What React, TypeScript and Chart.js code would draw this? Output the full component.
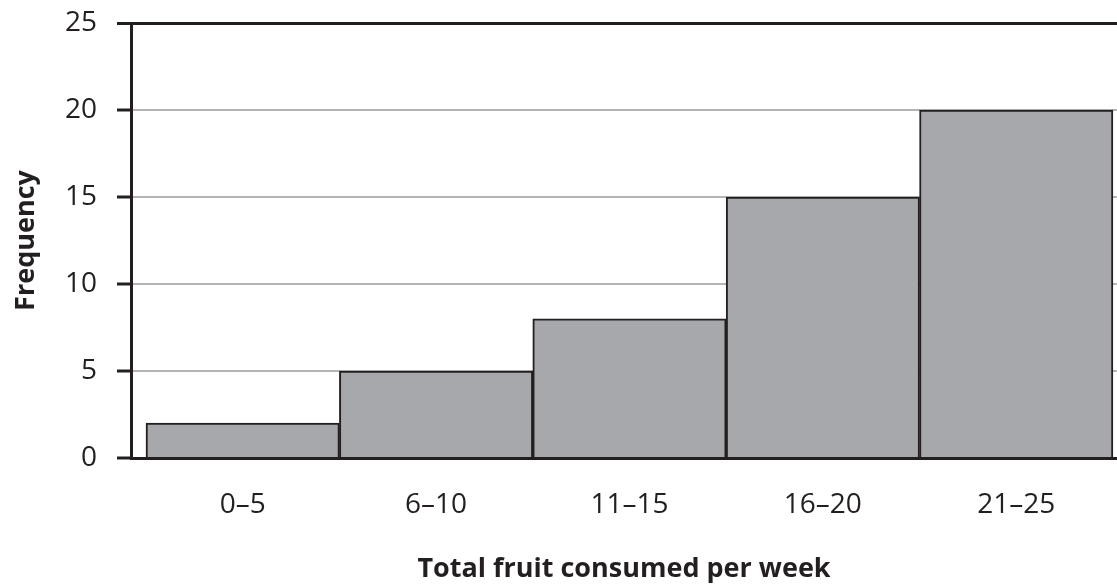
import { useEffect, useRef } from 'react';
import { Chart, registerables } from 'chart.js';

Chart.register(...registerables);

const categories = ['0–5', '6–10', '11–15', '16–20', '21–25'];
const frequencies = [2, 5, 8, 15, 20];
const yMax = 25;
const yStep = 5;
const xTitle = 'Total fruit consumed per week';
const yTitle = 'Frequency';

const INK = '#231f20';
const GRID = '#b4b4b4';
const FILL = '#a7a8ab';
const FONT = 'Open Sans';

export default function App() {
  const ref = useRef<HTMLCanvasElement>(null);

  useEffect(() => {
    const xMin = -0.5776;
    const xMax = 4.521;
    const chart = new Chart(ref.current!, {
      type: 'bar',
      data: {
        datasets: [
          {
            data: frequencies.map((v, i) => ({ x: i, y: v })),
            backgroundColor: FILL,
            borderColor: INK,
            borderWidth: 2,
            barThickness: 'flex',
            categoryPercentage: 1,
            barPercentage: 1,
          } as any,
        ],
      },
      options: {
        responsive: false,
        animation: false,
        layout: { padding: { top: 23, left: 0, right: 0, bottom: 0 } },
        plugins: { legend: { display: false }, tooltip: { enabled: false } },
        scales: {
          x: {
            type: 'linear',
            offset: false,
            min: xMin,
            max: xMax,
            afterBuildTicks: (s: any) => {
              s.ticks = [xMin, ...categories.map((_, i) => i)].map((v) => ({ value: v }));
            },
            afterFit: (s: any) => {
              s.height = 129;
              s.paddingLeft = 0;
              s.paddingRight = 0;
            },
            ticks: {
              callback: (v: any) => (Number.isInteger(v) ? categories[v] : ''),
              font: { family: FONT, size: 28 },
              color: INK,
              padding: 16,
              maxRotation: 0,
              autoSkip: false,
            },
            grid: {
              drawOnChartArea: false,
              tickLength: 14,
              tickWidth: 3,
              tickColor: (c: any) => (c.index === 0 ? INK : 'rgba(0,0,0,0)'),
            },
            border: { color: INK, width: 3 },
            title: {
              display: true,
              text: xTitle,
              font: { family: FONT, size: 27, weight: 'bold' },
              color: INK,
              padding: { top: 0, bottom: 1 },
            },
          },
          y: {
            min: 0,
            max: yMax,
            afterFit: (s: any) => {
              s.width = 131;
              s.paddingTop = 0;
              s.paddingBottom = 0;
            },
            ticks: {
              stepSize: yStep,
              font: { family: FONT, size: 28 },
              color: INK,
              padding: 20,
            },
            grid: {
              color: (c: any) => (c.tick && c.tick.value === yMax ? INK : GRID),
              lineWidth: (c: any) => (c.tick && c.tick.value === yMax ? 3 : 2),
              tickColor: INK,
              tickWidth: 3,
              tickLength: 14,
            },
            border: { color: INK, width: 3 },
            title: {
              display: true,
              text: yTitle,
              font: { family: FONT, size: 27, weight: 'bold' },
              color: INK,
              padding: { top: 10, bottom: 0 },
            },
          },
        },
      } as any,
    });
    return () => chart.destroy();
  }, []);

  return (
    <div style={{ position: 'fixed', left: 0, top: 0, width: 1117, height: 587, background: '#fff' }}>
      <canvas ref={ref} width={1117} height={587} style={{ display: 'block' }} />
    </div>
  );
}
